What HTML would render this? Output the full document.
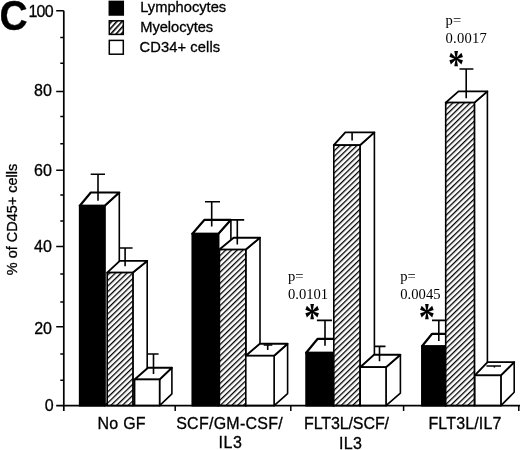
<!DOCTYPE html>
<html><head><meta charset="utf-8"><title>Figure C</title>
<style>html,body{margin:0;padding:0;background:#fff;}body{width:520px;height:450px;overflow:hidden;}svg{display:block;filter:grayscale(1);}text{fill:#000;}.s{font-family:"Liberation Sans",Arial,Helvetica,sans-serif;stroke:#000;stroke-width:0.3px;}.t{font-family:"Liberation Serif","Times New Roman",Times,serif;}</style>
</head><body>
<svg width="520" height="450" viewBox="0 0 520 450">
<defs><pattern id="hatch" patternUnits="userSpaceOnUse" width="4.0" height="4.0" patternTransform="rotate(-44)"><rect x="0" y="0" width="4.0" height="4.0" fill="#fff"/><rect x="0" y="0" width="4.0" height="1.3" fill="#000"/></pattern><pattern id="hatch2" patternUnits="userSpaceOnUse" width="3.9" height="3.9" patternTransform="translate(110,22) rotate(-48)"><rect x="0" y="0" width="3.9" height="3.9" fill="#fff"/><rect x="0" y="0" width="3.9" height="1.6" fill="#000"/></pattern></defs>
<rect x="0" y="0" width="520" height="450" fill="#fff"/>
<polygon points="104.7,205.8 119.30,192.50 119.30,392.30 104.7,405.6" fill="#fff" stroke="#000" stroke-width="1.6" stroke-linejoin="round"/>
<polygon points="79.8,205.8 104.7,205.8 119.30,192.50 90.80,192.50" fill="#fff" stroke="#000" stroke-width="2.2" stroke-linejoin="round"/>
<rect x="79.8" y="205.8" width="24.90" height="199.80" fill="#000" stroke="#000" stroke-width="1.9"/>
<polygon points="132.9,272.6 147.20,260.90 147.20,393.90 132.9,405.6" fill="#fff" stroke="#000" stroke-width="1.6" stroke-linejoin="round"/>
<polygon points="107.2,272.6 132.9,272.6 147.20,260.90 119.80,260.90" fill="#fff" stroke="#000" stroke-width="1.9" stroke-linejoin="round"/>
<rect x="107.2" y="272.6" width="25.70" height="133.00" fill="url(#hatch)" stroke="#000" stroke-width="1.6"/>
<polygon points="159.6,379.5 171.90,367.70 171.90,393.80 159.6,405.6" fill="#fff" stroke="#000" stroke-width="1.6" stroke-linejoin="round"/>
<polygon points="134.6,379.5 159.6,379.5 171.90,367.70 148.00,367.70" fill="#fff" stroke="#000" stroke-width="1.9" stroke-linejoin="round"/>
<rect x="134.6" y="379.5" width="25.00" height="26.10" fill="#fff" stroke="#000" stroke-width="1.6"/>
<polygon points="218.4,233.8 230.90,219.80 230.90,391.60 218.4,405.6" fill="#fff" stroke="#000" stroke-width="1.6" stroke-linejoin="round"/>
<polygon points="192.4,233.8 218.4,233.8 230.90,219.80 204.50,219.80" fill="#fff" stroke="#000" stroke-width="2.2" stroke-linejoin="round"/>
<rect x="192.4" y="233.8" width="26.00" height="171.80" fill="#000" stroke="#000" stroke-width="1.9"/>
<polygon points="245.8,249.6 260.00,237.70 260.00,393.70 245.8,405.6" fill="#fff" stroke="#000" stroke-width="1.6" stroke-linejoin="round"/>
<polygon points="219.4,249.6 245.8,249.6 260.00,237.70 233.60,237.70" fill="#fff" stroke="#000" stroke-width="1.9" stroke-linejoin="round"/>
<rect x="219.4" y="249.6" width="26.40" height="156.00" fill="url(#hatch)" stroke="#000" stroke-width="1.6"/>
<polygon points="274.1,355.8 287.60,343.80 287.60,393.60 274.1,405.6" fill="#fff" stroke="#000" stroke-width="1.6" stroke-linejoin="round"/>
<polygon points="245.8,355.8 274.1,355.8 287.60,343.80 259.80,343.80" fill="#fff" stroke="#000" stroke-width="1.9" stroke-linejoin="round"/>
<rect x="245.8" y="355.8" width="28.30" height="49.80" fill="#fff" stroke="#000" stroke-width="1.6"/>
<polygon points="333.6,352.8 346.20,338.80 346.20,391.60 333.6,405.6" fill="#fff" stroke="#000" stroke-width="1.6" stroke-linejoin="round"/>
<polygon points="306.2,352.8 333.6,352.8 346.20,338.80 317.70,338.80" fill="#fff" stroke="#000" stroke-width="2.2" stroke-linejoin="round"/>
<rect x="306.2" y="352.8" width="27.40" height="52.80" fill="#000" stroke="#000" stroke-width="1.9"/>
<polygon points="360.0,145.2 374.40,132.40 374.40,392.80 360.0,405.6" fill="#fff" stroke="#000" stroke-width="1.6" stroke-linejoin="round"/>
<polygon points="333.8,145.2 360.0,145.2 374.40,132.40 345.30,132.40" fill="#fff" stroke="#000" stroke-width="1.9" stroke-linejoin="round"/>
<rect x="333.8" y="145.2" width="26.20" height="260.40" fill="url(#hatch)" stroke="#000" stroke-width="1.6"/>
<polygon points="386.0,367.2 400.40,354.80 400.40,393.20 386.0,405.6" fill="#fff" stroke="#000" stroke-width="1.6" stroke-linejoin="round"/>
<polygon points="360.2,367.2 386.0,367.2 400.40,354.80 374.00,354.80" fill="#fff" stroke="#000" stroke-width="1.9" stroke-linejoin="round"/>
<rect x="360.2" y="367.2" width="25.80" height="38.40" fill="#fff" stroke="#000" stroke-width="1.6"/>
<polygon points="445.6,346.3 457.10,333.80 457.10,393.10 445.6,405.6" fill="#fff" stroke="#000" stroke-width="1.6" stroke-linejoin="round"/>
<polygon points="422.0,346.3 445.6,346.3 457.10,333.80 432.10,333.80" fill="#fff" stroke="#000" stroke-width="2.2" stroke-linejoin="round"/>
<rect x="422.0" y="346.3" width="23.60" height="59.30" fill="#000" stroke="#000" stroke-width="1.9"/>
<polygon points="474.4,102.6 487.40,91.40 487.40,394.40 474.4,405.6" fill="#fff" stroke="#000" stroke-width="1.6" stroke-linejoin="round"/>
<polygon points="445.7,102.6 474.4,102.6 487.40,91.40 458.50,91.40" fill="#fff" stroke="#000" stroke-width="1.9" stroke-linejoin="round"/>
<rect x="445.7" y="102.6" width="28.70" height="303.00" fill="url(#hatch)" stroke="#000" stroke-width="1.6"/>
<polygon points="500.9,375.4 514.20,362.10 514.20,392.30 500.9,405.6" fill="#fff" stroke="#000" stroke-width="1.6" stroke-linejoin="round"/>
<polygon points="474.8,375.4 500.9,375.4 514.20,362.10 487.60,362.10" fill="#fff" stroke="#000" stroke-width="1.9" stroke-linejoin="round"/>
<rect x="474.8" y="375.4" width="26.10" height="30.20" fill="#fff" stroke="#000" stroke-width="1.6"/>
<path d="M98.0,200.8 L98.0,174.3 M90.7,174.3 L105.0,174.3" fill="none" stroke="#000" stroke-width="1.6"/>
<path d="M125.1,266.3 L125.1,248.0 M120.0,248.0 L132.6,248.0" fill="none" stroke="#000" stroke-width="1.6"/>
<path d="M153.5,374.0 L153.5,354.0 M147.5,354.0 L158.6,354.0" fill="none" stroke="#000" stroke-width="1.6"/>
<path d="M211.7,226.5 L211.7,201.8 M205.0,201.8 L220.0,201.8" fill="none" stroke="#000" stroke-width="1.6"/>
<path d="M237.3,244.4 L237.3,219.9 M231.0,219.9 L244.2,219.9" fill="none" stroke="#000" stroke-width="1.6"/>
<path d="M267.7,350.0 L267.7,345.0 M263.7,345.0 L272.3,345.0" fill="none" stroke="#000" stroke-width="1.6"/>
<path d="M325.0,345.7 L325.0,320.4 M316.9,320.4 L332.0,320.4" fill="none" stroke="#000" stroke-width="1.6"/>
<path d="M352.1,140.5 L352.1,132.0 M352.1,132.0 L352.1,132.0" fill="none" stroke="#000" stroke-width="1.6"/>
<path d="M379.5,361.3 L379.5,346.4 M374.6,346.4 L385.5,346.4" fill="none" stroke="#000" stroke-width="1.6"/>
<path d="M438.8,341.0 L438.8,320.4 M432.0,320.4 L446.0,320.4" fill="none" stroke="#000" stroke-width="1.6"/>
<path d="M466.2,98.2 L466.2,69.0 M459.5,69.0 L473.4,69.0" fill="none" stroke="#000" stroke-width="1.6"/>
<path d="M494.4,367.6 L494.4,366.0 M486.5,366.0 L501.0,366.0" fill="none" stroke="#000" stroke-width="1.6"/>
<path d="M63.8,10.8 L63.8,411 M56.2,405.6 L520,405.6" fill="none" stroke="#000" stroke-width="1.7"/>
<path d="M56.2,10.8 L63.8,10.8 M56.2,91.5 L63.8,91.5 M56.2,170.2 L63.8,170.2 M56.2,246.5 L63.8,246.5 M56.2,326.8 L63.8,326.8 M60.3,37.4 L63.8,37.4 M60.3,63.2 L63.8,63.2 M60.3,116.5 L63.8,116.5 M60.3,143.7 L63.8,143.7 M60.3,195.0 L63.8,195.0 M60.3,221.0 L63.8,221.0 M60.3,274.0 L63.8,274.0 M60.3,302.0 L63.8,302.0 M60.3,354.0 L63.8,354.0 M60.3,380.2 L63.8,380.2 M175.2,405.6 L175.2,411 M290.8,405.6 L290.8,411 M403.6,405.6 L403.6,411 M518.8,405.6 L518.8,411 " fill="none" stroke="#000" stroke-width="1.5"/>
<text class="s" x="53.6" y="17.0" font-size="16" text-anchor="end" textLength="25.2" lengthAdjust="spacing">100</text>
<text class="s" x="51.9" y="95.6" font-size="16" text-anchor="end">80</text>
<text class="s" x="51.9" y="175.5" font-size="16" text-anchor="end">60</text>
<text class="s" x="51.9" y="252.0" font-size="16" text-anchor="end">40</text>
<text class="s" x="52.0" y="333.9" font-size="16" text-anchor="end">20</text>
<text class="s" x="53.6" y="410.7" font-size="16" text-anchor="end">0</text>
<text class="s" transform="translate(-0.4,29.8) scale(1,1.07)" x="0" y="0" font-size="39" font-weight="bold">C</text>
<text class="s" transform="translate(16.9,275.2) rotate(-90)" font-size="14.5" textLength="111.5" lengthAdjust="spacing">% of CD45+ cells</text>
<rect x="109.3" y="1.4" width="14" height="13.6" fill="#000" stroke="#000" stroke-width="1.5"/>
<rect x="109.3" y="20.8" width="14" height="13.6" fill="url(#hatch2)" stroke="#000" stroke-width="1.5"/>
<rect x="109.3" y="40.4" width="14" height="13.8" fill="#fff" stroke="#000" stroke-width="1.5"/>
<text class="s" x="140.2" y="12.4" font-size="14.7" textLength="86" lengthAdjust="spacing">Lymphocytes</text>
<text class="s" x="140.2" y="32.0" font-size="14.7" textLength="73" lengthAdjust="spacing">Myelocytes</text>
<text class="s" x="139.6" y="51.6" font-size="14.7" textLength="80.5" lengthAdjust="spacing">CD34+ cells</text>
<text class="s" x="97.6" y="428.9" font-size="16" textLength="48" lengthAdjust="spacing">No GF</text>
<text class="s" x="176.2" y="428.9" font-size="16" textLength="106.5" lengthAdjust="spacing">SCF/GM-CSF/</text>
<text class="s" x="218.6" y="447.9" font-size="16" textLength="23.4" lengthAdjust="spacing">IL3</text>
<text class="s" x="304.0" y="428.9" font-size="16" textLength="85" lengthAdjust="spacing">FLT3L/SCF/</text>
<text class="s" x="339.0" y="448.7" font-size="16" textLength="23" lengthAdjust="spacing">IL3</text>
<text class="s" x="428.4" y="428.9" font-size="16" textLength="73" lengthAdjust="spacing">FLT3L/IL7</text>
<text class="t" x="288" y="281.2" font-size="14.6">p=</text>
<text class="t" x="288" y="299.2" font-size="14.6" textLength="40.0" lengthAdjust="spacing">0.0101</text>
<text class="t" x="400.2" y="281.1" font-size="14.6">p=</text>
<text class="t" x="400.2" y="299.4" font-size="14.6" textLength="40.4" lengthAdjust="spacing">0.0045</text>
<text class="t" x="445.6" y="25.3" font-size="14.6">p=</text>
<text class="t" x="445.6" y="43.3" font-size="14.6" textLength="41.2" lengthAdjust="spacing">0.0017</text>
<text class="t" transform="translate(312.1,310.3) scale(1,1.26)" x="0" y="15.45" font-size="32.6" font-weight="bold" text-anchor="middle">*</text>
<text class="t" transform="translate(427.0,310.4) scale(1,1.26)" x="0" y="15.45" font-size="32.6" font-weight="bold" text-anchor="middle">*</text>
<text class="t" transform="translate(456.2,57.65) scale(1,1.26)" x="0" y="15.45" font-size="32.6" font-weight="bold" text-anchor="middle">*</text>
</svg></body></html>
